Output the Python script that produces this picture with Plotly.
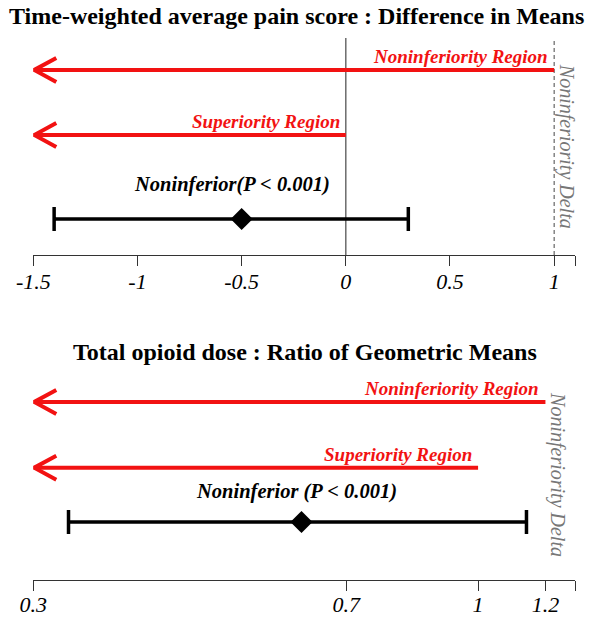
import numpy as np
import plotly.graph_objects as go

# ---------------- data ----------------
panel_titles = ["Time-weighted average pain score : Difference in Means",
                "Total opioid dose : Ratio of Geometric Means"]
result_labels = ["Noninferior(P < 0.001)", "Noninferior (P < 0.001)"]

# panel 1: difference in means
diff_estimate = -0.5
diff_lower = -1.4
diff_upper = 0.3
diff_null = 0.0
diff_delta = 1.0
diff_ticks = [-1.5, -1, -0.5, 0, 0.5, 1, 1.1]
diff_ticktext = ["-1.5", "-1", "-0.5", "0", "0.5", "1", ""]
diff_range = [-1.5, 1.1]

# panel 2: ratio of geometric means (log scale)
ratio_estimate = 0.62
ratio_lower = 0.33
ratio_upper = 1.14
ratio_null = 1.0
ratio_delta = 1.2
ratio_ticks = [0.3, 0.7, 1, 1.2, 1.3]
ratio_ticktext = ["0.3", "0.7", "1", "1.2", ""]
ratio_range = [0.3, 1.3]

region_labels = ["Noninferiority Region", "Superiority Region"]
delta_label = "Noninferiority Delta"

# ---------------- style ----------------
W, H = 590, 619
SERIF = "Liberation Serif, Times New Roman, serif"
RED = "#f21212"
GRAY_SOLID = "#555555"
GRAY_DASH = "#666666"

def px2paper_y(p):
    return (H - p) / H

X_DOM = [33.3 / W, 575 / W]
# row positions within each panel's y-domain (0 = axis line, 1 = top of reference lines)
panels = [
    dict(dom=[px2paper_y(255), px2paper_y(38)], rows=dict(ni=0.853, sup=0.553, ci=0.166),
         est=diff_estimate, lo=diff_lower, hi=diff_upper, null=diff_null, delta=diff_delta,
         ticks=diff_ticks, ticktext=diff_ticktext, rng=diff_range, log=False,
         title_y=16, title_x=296, res_xshift=-10, res_yshift=34, delta_y=0.5, standoff=-4),
    dict(dom=[px2paper_y(580), px2paper_y(370)], rows=dict(ni=0.848, sup=0.535, ci=0.276),
         est=ratio_estimate, lo=ratio_lower, hi=ratio_upper, null=ratio_null, delta=ratio_delta,
         ticks=ratio_ticks, ticktext=ratio_ticktext, rng=ratio_range, log=True,
         title_y=352, title_x=305, res_xshift=-5, res_yshift=31, delta_y=0.5, standoff=-6),
]

fig = go.Figure()
shapes = []
annotations = []

for i, p in enumerate(panels):
    xa = "x" if i == 0 else "x2"
    ya = "y" if i == 0 else "y2"
    conv = (lambda v: np.log10(v)) if p["log"] else (lambda v: v)
    left = p["rng"][0]

    # reference lines
    shapes.append(dict(type="line", xref=xa, yref=f"{ya} domain", x0=conv(p["null"]), x1=conv(p["null"]),
                       y0=0, y1=1, line=dict(color=GRAY_SOLID, width=1.3), layer="below"))
    shapes.append(dict(type="line", xref=xa, yref=f"{ya} domain", x0=conv(p["delta"]), x1=conv(p["delta"]),
                       y0=0, y1=1, line=dict(color=GRAY_DASH, width=1.2, dash="4px,3px"), layer="below"))

    # region arrows
    for key, start in (("ni", p["delta"]), ("sup", p["null"])):
        yv = p["rows"][key]
        fig.add_trace(go.Scatter(x=[start, left], y=[yv, yv], mode="lines",
                                 line=dict(color=RED, width=4), xaxis=xa, yaxis=ya,
                                 hoverinfo="skip", showlegend=False))
        shapes.append(dict(type="path", xref=xa, yref=ya, xsizemode="pixel", ysizemode="pixel",
                           xanchor=left, yanchor=yv, path="M 23,12 L 1,0 L 23,-12",
                           line=dict(color=RED, width=4)))

    annotations.append(dict(text=f"<b><i>{region_labels[0]}</i></b>", xref=xa, yref=ya,
                            x=conv(p["delta"]), y=p["rows"]["ni"], xanchor="right", yanchor="bottom",
                            xshift=-4, yshift=1, showarrow=False,
                            font=dict(family=SERIF, size=19, color=RED)))
    annotations.append(dict(text=f"<b><i>{region_labels[1]}</i></b>", xref=xa, yref=ya,
                            x=conv(p["null"]), y=p["rows"]["sup"], xanchor="right", yanchor="bottom",
                            xshift=-4, yshift=1, showarrow=False,
                            font=dict(family=SERIF, size=19, color=RED)))

    # confidence interval
    fig.add_trace(go.Scatter(x=[p["est"]], y=[p["rows"]["ci"]], mode="markers",
                             marker=dict(symbol="diamond", size=17, color="black"),
                             error_x=dict(type="data", symmetric=False,
                                          array=[p["hi"] - p["est"]], arrayminus=[p["est"] - p["lo"]],
                                          color="black", thickness=3.5, width=12),
                             xaxis=xa, yaxis=ya, hoverinfo="skip", showlegend=False))
    annotations.append(dict(text=f"<b><i>{result_labels[i]}</i></b>", xref=xa, yref=ya,
                            x=conv(p["est"]), y=p["rows"]["ci"], xanchor="center", yanchor="middle",
                            xshift=p["res_xshift"], yshift=p["res_yshift"], showarrow=False,
                            font=dict(family=SERIF, size=20.5, color="black")))

    # delta label (rotated)
    annotations.append(dict(text=f"<i>{delta_label}</i>", xref=xa, yref=f"{ya} domain",
                            x=conv(p["delta"]), y=p["delta_y"], xanchor="left", yanchor="middle",
                            xshift=-1, showarrow=False, textangle=90,
                            font=dict(family=SERIF, size=20, color="#777777")))

    # panel title
    annotations.append(dict(text=f"<b>{panel_titles[i]}</b>", xref="paper", yref="paper",
                            x=p["title_x"] / W, y=px2paper_y(p["title_y"]), xanchor="center",
                            yanchor="middle", showarrow=False,
                            font=dict(family=SERIF, size=24, color="black")))

    axis_common = dict(domain=X_DOM, showline=True, linecolor="#333333", linewidth=1.2,
                       ticks="outside", ticklen=10, tickcolor="#333333", tickwidth=1.2,
                       tickvals=p["ticks"], ticktext=p["ticktext"], showgrid=False, zeroline=False,
                       ticklabelstandoff=p["standoff"], automargin=False,
                       tickfont=dict(family=SERIF, size=22, color="black", style="italic"))
    if p["log"]:
        xaxis = dict(type="log", range=[np.log10(p["rng"][0]), np.log10(p["rng"][1])],
                     anchor=ya, **axis_common)
    else:
        xaxis = dict(range=p["rng"], anchor=ya, **axis_common)
    yaxis = dict(domain=p["dom"], range=[0, 1], visible=False, anchor=xa, fixedrange=True,
                 automargin=False)
    if i == 0:
        fig.update_layout(xaxis=xaxis, yaxis=yaxis)
    else:
        fig.update_layout(xaxis2=xaxis, yaxis2=yaxis)

fig.update_layout(width=W, height=H, margin=dict(l=0, r=0, t=0, b=0, autoexpand=False),
                  paper_bgcolor="white", plot_bgcolor="white",
                  shapes=shapes, annotations=annotations, showlegend=False)

fig.write_html("out.html", config={"displayModeBar": False},
               post_script="document.body.style.margin='0';document.body.style.padding='0';")
